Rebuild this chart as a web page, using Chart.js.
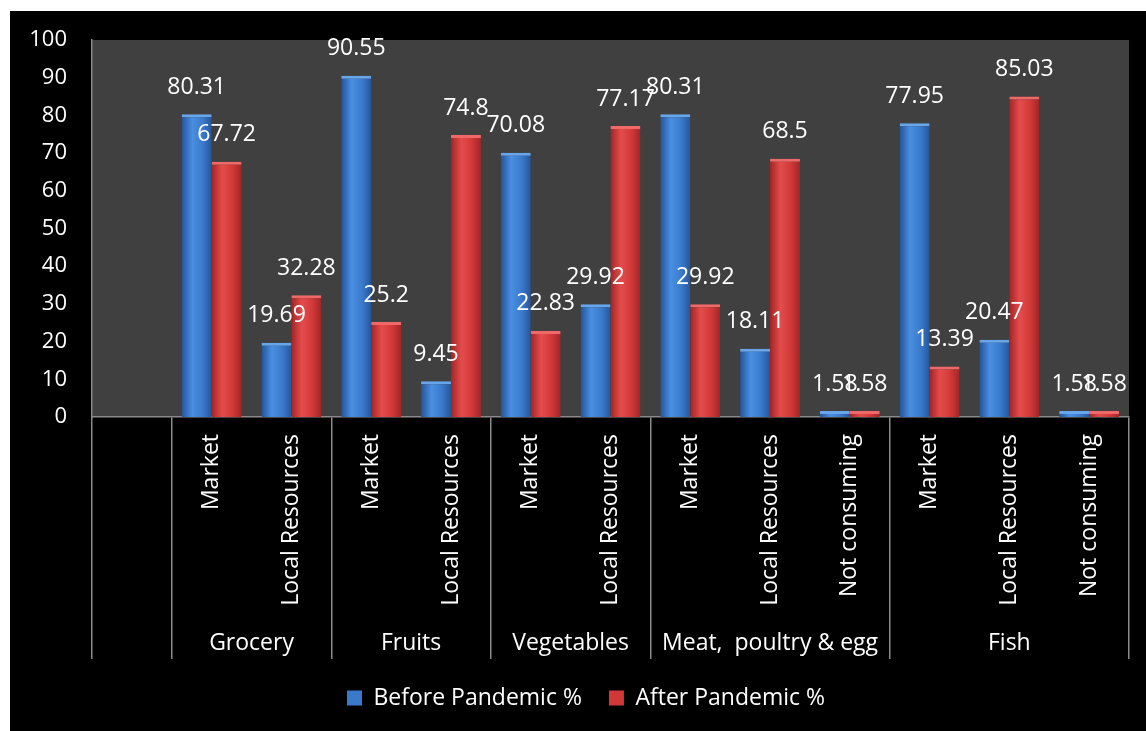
<!DOCTYPE html>
<html><head><meta charset="utf-8">
<script src="https://cdn.jsdelivr.net/npm/chart.js@4.4.1/dist/chart.umd.min.js"></script>
<style>
html,body{margin:0;padding:0;background:#fff;}
#wrap{position:absolute;left:10px;top:11px;width:1136px;height:720px;background:#000;}
canvas{display:block;}
</style></head><body>
<div id="wrap"><canvas id="c" width="1136" height="720"></canvas></div>
<script>
// ---- data ----
const subCategories = ['', 'Market', 'Local Resources', 'Market', 'Local Resources', 'Market', 'Local Resources',
  'Market', 'Local Resources', 'Not consuming', 'Market', 'Local Resources', 'Not consuming'];
const groupNames = ['Grocery', 'Fruits', 'Vegetables', 'Meat,  poultry & egg', 'Fish'];
const groupSizes = [2, 2, 2, 3, 3];
const leadingBlank = 1;
const beforePandemic = [null, 80.31, 19.69, 90.55, 9.45, 70.08, 29.92, 80.31, 18.11, 1.58, 77.95, 20.47, 1.58];
const afterPandemic = [null, 67.72, 32.28, 25.2, 74.8, 22.83, 77.17, 29.92, 68.5, 1.58, 13.39, 85.03, 1.58];
const seriesNames = ['Before Pandemic %', 'After Pandemic %'];
const yTickValues = [0, 10, 20, 30, 40, 50, 60, 70, 80, 90, 100];

// derived group structure
const groupCenters = [];
const groupBoundaries = [0];
let start = leadingBlank;
groupBoundaries.push(start);
groupSizes.forEach(n => { groupCenters.push(start + (n - 1) / 2); start += n; groupBoundaries.push(start); });

const FONT = 'Open Sans';
const catPct = 0.75;
const palettes = [
  ['#24549a', '#4a8fe2', '#3a7acb', '#25569c'],
  ['#a42424', '#e44c4c', '#d23838', '#a22626']
];
const capColors = ['#68a6ec', '#f06868'];
const legendColors = ['#3a7acb', '#d23838'];

function barFill(ctx) {
  const pal = palettes[ctx.datasetIndex];
  const chart = ctx.chart, xs = chart.scales && chart.scales.x;
  if (!chart.chartArea || !xs || ctx.type !== 'data') return pal[2];
  const barW = xs.width / subCategories.length * catPct / 2;
  const c = xs.getPixelForValue(ctx.dataIndex);
  const left = ctx.datasetIndex === 0 ? c - barW : c;
  const g = chart.ctx.createLinearGradient(left, 0, left + barW, 0);
  g.addColorStop(0, pal[0]);
  g.addColorStop(0.35, pal[1]);
  g.addColorStop(0.7, pal[2]);
  g.addColorStop(1, pal[3]);
  return g;
}

const plotBg = {
  id: 'plotBg',
  beforeDraw(chart) {
    const a = chart.chartArea, c = chart.ctx;
    c.save(); c.fillStyle = '#404040';
    c.fillRect(a.left, a.top, a.right - a.left, a.bottom - a.top);
    c.restore();
  }
};
const valueLabels = {
  id: 'valueLabels',
  afterDatasetsDraw(chart) {
    const c = chart.ctx;
    c.save();
    c.font = '23px "' + FONT + '"';
    c.fillStyle = '#ffffff'; c.textAlign = 'center'; c.textBaseline = 'middle';
    chart.data.datasets.forEach((ds, di) => {
      chart.getDatasetMeta(di).data.forEach((el, i) => {
        const v = ds.data[i];
        if (v === null || v === undefined) return;
        c.fillText(String(v), el.x, el.y - 27);
      });
    });
    c.restore();
  }
};

const barStyle = (i) => ({
  backgroundColor: barFill,
  borderColor: capColors[i],
  borderWidth: { top: 3, left: 0, right: 0, bottom: 0 },
  borderSkipped: 'start',
  categoryPercentage: catPct,
  barPercentage: 1
});

new Chart(document.getElementById('c'), {
  type: 'bar',
  data: {
    labels: subCategories,
    datasets: [
      Object.assign({ label: seriesNames[0], data: beforePandemic }, barStyle(0)),
      Object.assign({ label: seriesNames[1], data: afterPandemic }, barStyle(1))
    ]
  },
  options: {
    responsive: false,
    animation: false,
    devicePixelRatio: 1,
    layout: { padding: { top: 29, right: 0, bottom: 11.5, left: 16 } },
    plugins: {
      tooltip: { enabled: false },
      legend: {
        position: 'bottom',
        labels: {
          color: '#ffffff', font: { family: FONT, size: 23 }, boxWidth: 15, boxHeight: 15, padding: 27,
          generateLabels: (chart) => chart.data.datasets.map((ds, i) => ({
            text: ds.label, fillStyle: legendColors[i], strokeStyle: legendColors[i], lineWidth: 0,
            hidden: !chart.isDatasetVisible(i), datasetIndex: i, fontColor: '#ffffff'
          }))
        }
      }
    },
    scales: {
      x: {
        type: 'category', position: 'bottom', offset: true, weight: 0,
        grid: {
          display: true, offset: true, drawOnChartArea: false, drawTicks: true, tickLength: 242, lineWidth: 1.5,
          color: (c) => (c.index === undefined || groupBoundaries.includes(c.index)) ? '#8a8a8a' : 'rgba(0,0,0,0)'
        },
        border: { display: true, color: '#8a8a8a', width: 1.5 },
        ticks: { color: '#ffffff', font: { family: FONT, size: 23 }, minRotation: 90, maxRotation: 90, autoSkip: false, padding: -225 },
        afterFit: (s) => { s.height = 192; }
      },
      x2: {
        type: 'linear', position: 'bottom', min: -0.5, max: subCategories.length - 0.5, weight: 1, offset: false,
        grid: { display: false, drawTicks: false }, border: { display: false },
        afterBuildTicks: (s) => { s.ticks = groupCenters.map(v => ({ value: v })); },
        ticks: {
          autoSkip: false, minRotation: 0, maxRotation: 0, color: '#ffffff', font: { family: FONT, size: 23 }, padding: 21,
          callback: (v) => { const k = groupCenters.indexOf(v); return k >= 0 ? groupNames[k] : ''; }
        },
        afterFit: (s) => { s.height = 50.5; }
      },
      y: {
        min: 0, max: 100,
        afterBuildTicks: (s) => { s.ticks = yTickValues.map(v => ({ value: v })); },
        grid: { display: false, drawTicks: true, tickLength: 25 },
        border: { display: true, color: '#8a8a8a', width: 1.5 },
        ticks: { color: '#ffffff', font: { family: FONT, size: 22 }, padding: 0 },
        afterFit: (s) => { s.width = 66; }
      },
      yRightSpacer: {
        type: 'linear', position: 'right', display: true,
        grid: { display: false, drawTicks: false }, border: { display: false },
        ticks: { display: false },
        afterFit: (s) => { s.width = 17; }
      }
    }
  },
  plugins: [plotBg, valueLabels]
});
</script>
</body></html>
